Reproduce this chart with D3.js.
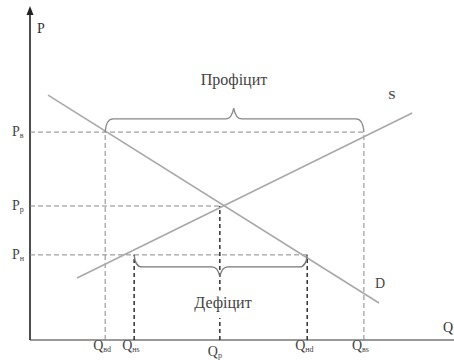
<!DOCTYPE html>
<html>
<head>
<meta charset="utf-8">
<script src="https://cdn.jsdelivr.net/npm/d3@7"></script>
<style>
body { margin: 0; background: #fff; }
svg { display: block; font-family: "Liberation Serif", "Times New Roman", serif; }
</style>
</head>
<body>
<svg width="454" height="360"></svg>
<script>
// quantities on the Q axis (subscript, value)
const qSubs = ['вd', 'нs', 'р', 'нd', 'вs'];
const qValues = [1.79, 2.48, 4.52, 6.6, 7.95];
// prices on the P axis
const pSubs = ['в', 'р', 'н'];
const pValues = [6.3, 4.06, 2.58];
// demand and supply lines (end points, Q/P)
const demand = [[0.43, 7.42], [8.31, 1.12]];
const supply = [[1.12, 1.88], [9.1, 6.88]];

let svg = d3.select('svg');
let xScale = d3.scaleLinear().domain([0, 10]).range([30, 450]);
let yScale = d3.scaleLinear().domain([0, 10]).range([340, 10]);

// axes
let xAxis = d3.axisBottom(xScale).tickValues([]).tickSizeOuter(0);
svg.append('g').attr('transform', 'translate(0,340)').call(xAxis)
    .select('.domain').attr('stroke', '#777').attr('stroke-width', 1.3)
    .attr('d', 'M30,0H454');
let yAxis = d3.axisLeft(yScale).tickValues([]).tickSizeOuter(0);
svg.append('g').attr('transform', 'translate(30,0)').call(yAxis)
    .select('.domain').attr('stroke', '#222').attr('stroke-width', 1.6)
    .attr('d', 'M0,340V12');
svg.append('path').attr('d', 'M30,6L26.5,15H33.5Z').attr('fill', '#222');

svg.append('text').attr('x', 37).attr('y', 33).attr('font-size', 14).attr('fill', '#333').text('P');
svg.append('text').attr('x', 443).attr('y', 332).attr('font-size', 14).attr('fill', '#333').text('Q');

// equilibrium pairs: which P each Q reaches, and which Q each P reaches
const qTop = [pValues[0], pValues[2], pValues[1], pValues[2], pValues[0]];
const qDark = [false, true, true, true, false];
const pRight = [qValues[4], qValues[2], qValues[3]];

// horizontal dashed lines
svg.selectAll('.hdash').data(pValues).enter().append('line')
    .attr('x1', xScale(0)).attr('x2', (d, i) => xScale(pRight[i]))
    .attr('y1', d => yScale(d)).attr('y2', d => yScale(d))
    .attr('stroke', '#888').attr('stroke-width', 1).attr('stroke-dasharray', '5,3');

// vertical dashed lines
svg.selectAll('.vdash').data(qValues).enter().append('line')
    .attr('x1', d => xScale(d)).attr('x2', d => xScale(d))
    .attr('y1', yScale(0)).attr('y2', (d, i) => yScale(qTop[i]))
    .attr('stroke', (d, i) => qDark[i] ? '#222' : '#888')
    .attr('stroke-width', (d, i) => qDark[i] ? 1.4 : 1)
    .attr('stroke-dasharray', (d, i) => qDark[i] ? '4,3' : '5,3');

// demand and supply
let line = d3.line().x(d => xScale(d[0])).y(d => yScale(d[1]));
[demand, supply].forEach(s => {
    svg.append('path').attr('d', line(s)).attr('fill', 'none')
        .attr('stroke', '#a8a8a8').attr('stroke-width', 1.6);
});
svg.append('text').attr('x', xScale(9.1) - 24).attr('y', yScale(6.88) - 14)
    .attr('font-size', 13).attr('font-weight', 'bold').attr('fill', '#555').text('S');
svg.append('text').attr('x', xScale(8.31) - 4).attr('y', yScale(1.12) - 15)
    .attr('font-size', 14).attr('fill', '#444').text('D');

// tick labels with subscripts
let qLab = svg.selectAll('.qlab').data(qValues).enter().append('text')
    .attr('x', d => xScale(d) - 12).attr('y', (d, i) => i === 2 ? 356 : 350)
    .attr('font-size', 14).attr('fill', '#444');
qLab.append('tspan').text('Q');
qLab.append('tspan').attr('font-size', 8).attr('dy', 2).text((d, i) => qSubs[i]);

let pLab = svg.selectAll('.plab').data(pValues).enter().append('text')
    .attr('x', 12).attr('y', d => yScale(d) + 4)
    .attr('font-size', 14).attr('fill', '#444');
pLab.append('tspan').text('P');
pLab.append('tspan').attr('font-size', 8).attr('dy', 2).text((d, i) => pSubs[i]);

// curly brace between x0 and x1, base at yb, tip height h (negative = up)
function brace(x0, x1, yb, h, tipX) {
    let ym = yb + h * 0.55;
    let yt = yb + h;
    let r = 8;
    let p = d3.path();
    p.moveTo(x0, yb);
    p.quadraticCurveTo(x0 + 1, ym, x0 + r, ym);
    p.lineTo(tipX - r, ym);
    p.quadraticCurveTo(tipX - 2, ym, tipX, yt);
    p.moveTo(tipX, yt);
    p.quadraticCurveTo(tipX + 2, ym, tipX + r, ym);
    p.lineTo(x1 - r, ym);
    p.quadraticCurveTo(x1 - 1, ym, x1, yb);
    return p.toString();
}
svg.append('path')
    .attr('d', brace(xScale(qValues[0]), xScale(qValues[4]), yScale(pValues[0]), -24, xScale(4.85)))
    .attr('fill', 'none').attr('stroke', '#888').attr('stroke-width', 1.3);
svg.append('path')
    .attr('d', brace(xScale(qValues[1]), xScale(qValues[3]), yScale(pValues[2]), 22, xScale(qValues[2])))
    .attr('fill', 'none').attr('stroke', '#777').attr('stroke-width', 1.3);

svg.append('text').attr('x', 234).attr('y', 85).attr('text-anchor', 'middle')
    .attr('font-size', 16).attr('fill', '#444').text('Профіцит');
// white halo so the dashed Q line breaks around the label
svg.append('text').attr('x', 223).attr('y', 308).attr('text-anchor', 'middle')
    .attr('font-size', 16).attr('fill', '#444')
    .attr('stroke', '#fff').attr('stroke-width', 12).attr('paint-order', 'stroke')
    .text('Дефіцит');
</script>
</body>
</html>
